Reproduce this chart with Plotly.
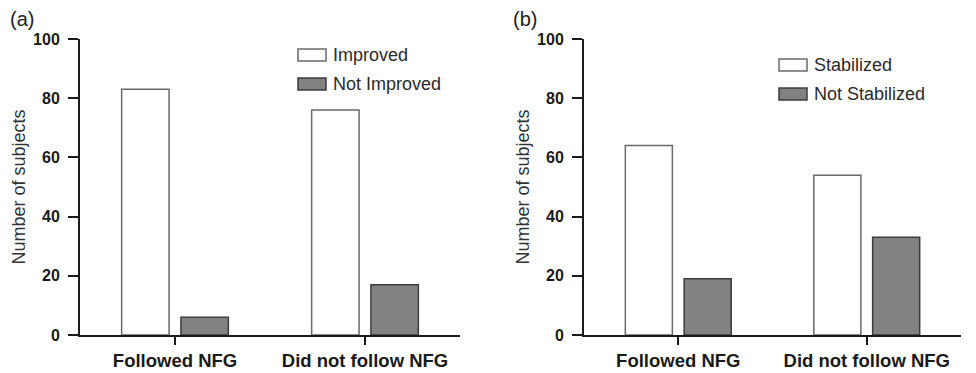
import plotly.graph_objects as go

categories = ["Followed NFG", "Did not follow NFG"]

# Panel (a)
a_series = ["Improved", "Not Improved"]
a_improved = [83, 76]
a_not_improved = [6, 17]

# Panel (b)
b_series = ["Stabilized", "Not Stabilized"]
b_stabilized = [64, 54]
b_not_stabilized = [19, 33]

y_ticks = [0, 20, 40, 60, 80, 100]

FONT = "Arial, Liberation Sans, sans-serif"
WHITE_FILL = "#ffffff"
WHITE_LINE = "#6a6a6a"
GRAY_FILL = "#828282"
GRAY_LINE = "#3c3c3c"
AXIS = "#1a1a1a"

fig = go.Figure()

def add_pair(vals1, vals2, names, xa, ya):
    fig.add_trace(go.Bar(x=categories, y=vals1, name=names[0], xaxis=xa, yaxis=ya,
                         marker=dict(color=WHITE_FILL, line=dict(color=WHITE_LINE, width=1.5)),
                         showlegend=False))
    fig.add_trace(go.Bar(x=categories, y=vals2, name=names[1], xaxis=xa, yaxis=ya,
                         marker=dict(color=GRAY_FILL, line=dict(color=GRAY_LINE, width=1.5)),
                         showlegend=False))

add_pair(a_improved, a_not_improved, a_series, "x", "y")
add_pair(b_stabilized, b_not_stabilized, b_series, "x2", "y2")

H = 373.0
W = 976.0

xaxis_common = dict(type="category", range=[-0.5, 1.5], showline=True, linecolor=AXIS, linewidth=2,
                    ticks="outside", ticklen=8, tickwidth=2, tickcolor=AXIS, ticklabelstandoff=0,
                    tickfont=dict(family=FONT, size=18.5, color="#1a1a1a", weight="bold"),
                    showgrid=False, zeroline=False, fixedrange=True, automargin=False)
yaxis_common = dict(range=[0, 100], tickvals=y_ticks, showline=True, linecolor=AXIS, linewidth=2,
                    ticks="outside", ticklen=10, tickwidth=2, tickcolor=AXIS, ticklabelstandoff=5,
                    tickfont=dict(family=FONT, size=16, color="#1a1a1a", weight="bold"),
                    showgrid=False, zeroline=False, fixedrange=True, automargin=False,
                    title=dict(text="Number of subjects", font=dict(family=FONT, size=18, color="#333333"),
                               standoff=3))

ydom = [1 - 335 / H, 1 - 39 / H]

fig.update_layout(
    template="none",
    width=976, height=373,
    margin=dict(l=0, r=0, t=0, b=0, pad=0),
    paper_bgcolor="white", plot_bgcolor="white",
    barmode="group", bargap=0.376, bargroupgap=0.2,
    xaxis=dict(domain=[80 / W, 460 / W], anchor="y", **xaxis_common),
    yaxis=dict(domain=ydom, anchor="x", **yaxis_common),
    xaxis2=dict(domain=[584 / W, 961 / W], anchor="y2", **xaxis_common),
    yaxis2=dict(domain=ydom, anchor="x2", **yaxis_common),
    font=dict(family=FONT),
)

# Manual legends (wide rectangular swatches as in the reference)
def legend(x0, ys, names):
    fills = [(WHITE_FILL, WHITE_LINE), (GRAY_FILL, GRAY_LINE)]
    for (yc, name, (fc, lc)) in zip(ys, names, fills):
        fig.add_shape(type="rect", xref="paper", yref="paper",
                      x0=x0 / W, x1=(x0 + 28) / W, y0=1 - (yc + 6) / H, y1=1 - (yc - 6) / H,
                      fillcolor=fc, line=dict(color=lc, width=1.5))
        fig.add_annotation(xref="paper", yref="paper", x=(x0 + 33) / W, y=1 - yc / H,
                           text=name, showarrow=False, xanchor="left", yanchor="middle",
                           font=dict(family=FONT, size=18, color="#2a2a2a"))

legend(298, [55, 84], a_series)
legend(779, [65, 94], b_series)

fig.add_annotation(xref="paper", yref="paper", x=8 / W, y=1 - 19 / H, text="(a)", showarrow=False,
                   xanchor="left", yanchor="middle", font=dict(family=FONT, size=20, color="#222222"))
fig.add_annotation(xref="paper", yref="paper", x=511 / W, y=1 - 19 / H, text="(b)", showarrow=False,
                   xanchor="left", yanchor="middle", font=dict(family=FONT, size=20, color="#222222"))

fig.write_html("out.html", config={"displayModeBar": False},
               post_script="document.body.style.margin='0';document.body.style.padding='0';")
